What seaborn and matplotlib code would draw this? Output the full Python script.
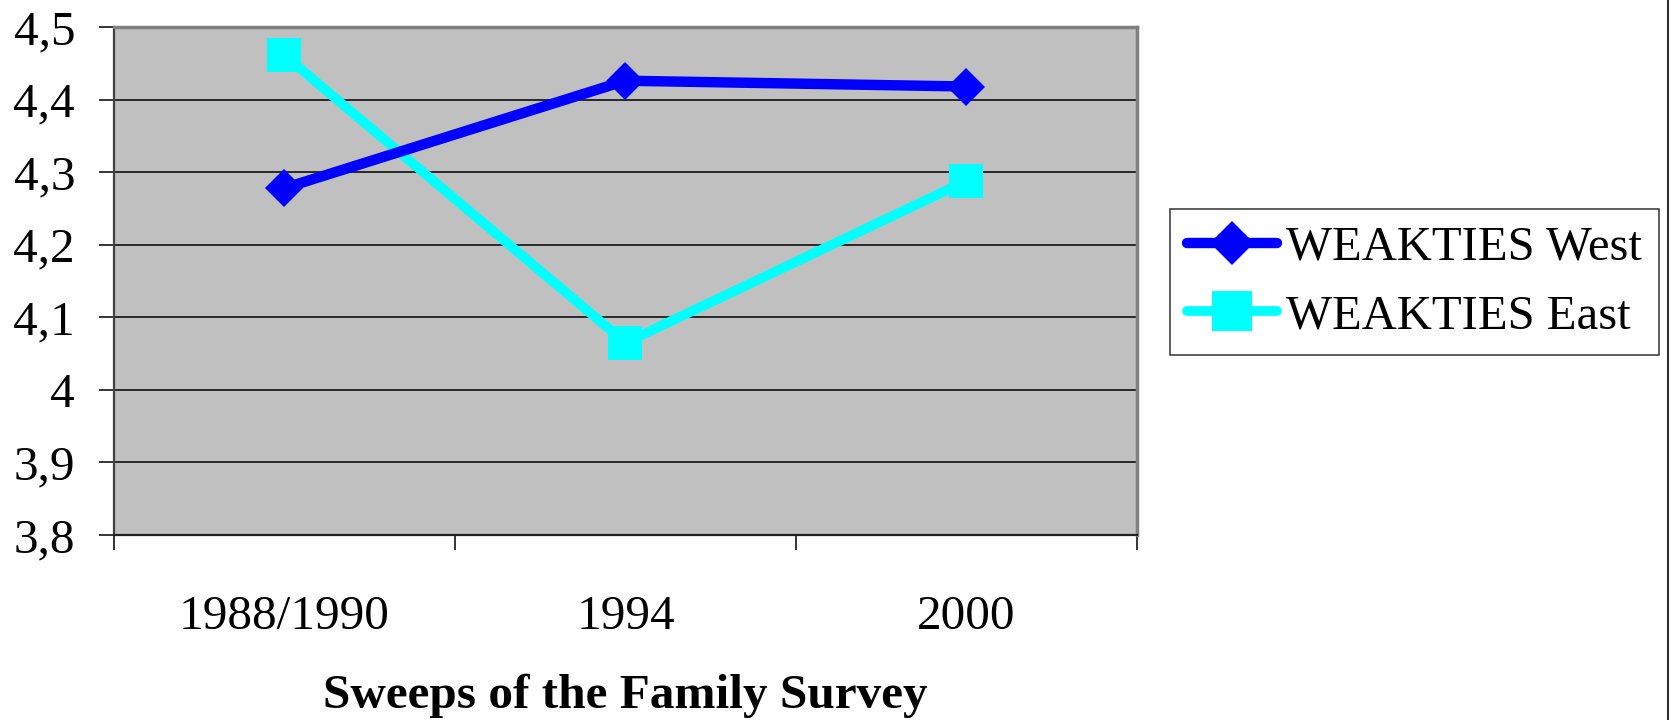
import matplotlib
matplotlib.use("Agg")
import pandas as pd
import seaborn as sns
import matplotlib.pyplot as plt
from matplotlib.lines import Line2D
from matplotlib.ticker import FixedLocator, FuncFormatter

sweeps = ["1988/1990", "1994", "2000"]
west = [4.278, 4.426, 4.418]
east = [4.461, 4.065, 4.288]
y_ticks = [3.8, 3.9, 4.0, 4.1, 4.2, 4.3, 4.4, 4.5]

df = pd.DataFrame({"sweep": sweeps, "West": west, "East": east})

sns.set_style("white")
plt.rcParams["font.family"] = ["Liberation Serif", "DejaVu Serif"]
for k in ["text.color", "axes.labelcolor", "xtick.color", "ytick.color"]:
    plt.rcParams[k] = "black"
fs = 35.5

fig = plt.figure(figsize=(16.71, 7.2), dpi=100)
ax = fig.add_axes([0.0682, 0.2569, 0.6122, 0.7056])
ax.set_facecolor("#C0C0C0")

sns.lineplot(data=df, x="sweep", y="West", ax=ax, color="#0000FF", linewidth=7.5,
             marker="D", markersize=19.5, markeredgewidth=0, label="WEAKTIES West",
             solid_capstyle="round", zorder=4)
sns.lineplot(data=df, x="sweep", y="East", ax=ax, color="#00FFFF", linewidth=7,
             marker="s", markersize=25, markeredgewidth=0, label="WEAKTIES East",
             solid_capstyle="round", zorder=3)

ax.set_xlim(-0.5, len(sweeps) - 0.5)
ax.set_ylim(3.8, 4.5)
ax.set_yticks(y_ticks)
ax.yaxis.set_major_formatter(FuncFormatter(lambda v, p: f"{v:.1f}".replace(".", ",").replace(",0", "")))
ax.grid(axis="y", color="black", linewidth=1.1)
ax.set_axisbelow(True)

ax.xaxis.set_minor_locator(FixedLocator([i - 0.5 for i in range(len(sweeps) + 1)]))
ax.tick_params(axis="x", which="major", length=0, pad=43, labelsize=fs)
ax.tick_params(axis="x", which="minor", length=11, width=1.1, color="black", direction="out")
ax.tick_params(axis="y", length=11, width=1.1, color="black", direction="out", pad=17, labelsize=fs)
ax.tick_params(bottom=True, left=True, which="both")

for s in ["top", "right"]:
    ax.spines[s].set_color("#808080")
    ax.spines[s].set_linewidth(2.5)
ax.spines["left"].set_color("#404040")
ax.spines["left"].set_linewidth(1.6)
ax.spines["bottom"].set_color("#202020")
ax.spines["bottom"].set_linewidth(1.6)

ax.set_ylabel("")
ax.set_xlabel("Sweeps of the Family Survey", fontsize=fs, fontweight="bold", labelpad=25)

leg = ax.legend(loc="upper left", bbox_to_anchor=(0.700, 0.710), bbox_transform=fig.transFigure,
                borderaxespad=0, fontsize=35, frameon=True, fancybox=False, handlelength=1.85,
                handletextpad=0.2, labelspacing=0.5, borderpad=0.35, markerscale=1.15)
leg.get_frame().set_edgecolor("black")
leg.get_frame().set_linewidth(1.1)

fig.add_artist(Line2D([0.9985, 0.9985], [0, 1], transform=fig.transFigure, color="#303030", linewidth=1.5))

plt.savefig("out.png", dpi=100)
